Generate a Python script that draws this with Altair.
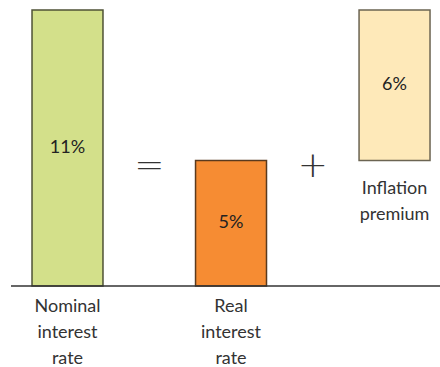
import altair as alt
import pandas as pd

# Data
categories = ["Nominal interest rate", "Real interest rate", "Inflation premium"]
positions = [0, 1, 2]
bar_low = [0, 0, 5]
bar_high = [11, 5, 11]
value_labels = ["11%", "5%", "6%"]
fills = ["#d3e08a", "#f68c33", "#fee9b9"]
strokes = ["#4f5236", "#5a3a1e", "#6b6452"]

label_lines = [["Nominal", "interest", "rate"], ["Real", "interest", "rate"], ["Inflation", "premium"]]
label_anchor = [0, 0, 5]

symbols = ["=", "+"]
symbol_pos = [0.5, 1.5]
symbol_level = [4.8, 4.8]

half = 0.217
bars = pd.DataFrame({
    "cat": categories,
    "x0": [p - half for p in positions],
    "x1": [p + half for p in positions],
    "lo": bar_low,
    "hi": bar_high,
    "mid": [(a + b) / 2 for a, b in zip(bar_low, bar_high)],
    "pos": positions,
    "lab": value_labels,
    "fill": fills,
    "stroke": strokes,
})

labels = pd.DataFrame({"pos": positions, "y": label_anchor, "text": label_lines})
syms = pd.DataFrame({"pos": symbol_pos, "y": symbol_level, "s": symbols})

xs = alt.Scale(domain=[-0.4128, 2.278], nice=False, zero=False)
ys = alt.Scale(domain=[-3.228, 11.4], nice=False, zero=False)
FONT = "Lato"

base = alt.Chart(bars)

rects = base.mark_rect(strokeWidth=1.5).encode(
    x=alt.X("x0:Q", scale=xs, axis=None),
    x2="x1:Q",
    y=alt.Y("lo:Q", scale=ys, axis=None),
    y2="hi:Q",
    fill=alt.Fill("fill:N", scale=None),
    stroke=alt.Stroke("stroke:N", scale=None),
)

vals = base.mark_text(font=FONT, fontSize=18, color="#222222", baseline="middle").encode(
    x=alt.X("pos:Q", scale=xs),
    y=alt.Y("mid:Q", scale=ys),
    text="lab:N",
)

baseline_rule = alt.Chart(pd.DataFrame({"y": [0]})).mark_rule(color="#333333", strokeWidth=1.5).encode(
    y=alt.Y("y:Q", scale=ys),
    x=alt.value(11),
    x2=alt.value(440),
)

lab_nominal = alt.Chart(labels[labels["y"] == 0]).mark_text(
    font=FONT, fontSize=18, color="#333333", baseline="top", lineHeight=26, dy=12
).encode(x=alt.X("pos:Q", scale=xs), y=alt.Y("y:Q", scale=ys), text="text")

lab_infl = alt.Chart(labels[labels["y"] != 0]).mark_text(
    font=FONT, fontSize=18, color="#333333", baseline="top", lineHeight=26, dy=19
).encode(x=alt.X("pos:Q", scale=xs), y=alt.Y("y:Q", scale=ys), text="text")

sym_text = alt.Chart(syms).mark_text(
    font="DejaVu Sans", fontSize=36, fontWeight=200, color="#333333", baseline="middle"
).encode(x=alt.X("pos:Q", scale=xs), y=alt.Y("y:Q", scale=ys), text="s:N")

chart = alt.layer(rects, vals, baseline_rule, lab_nominal, lab_infl, sym_text).properties(
    width=440, height=367, padding=0, autosize="none"
).configure_view(stroke=None)

chart.save("out.html", embed_options={"renderer": "svg", "actions": False})
